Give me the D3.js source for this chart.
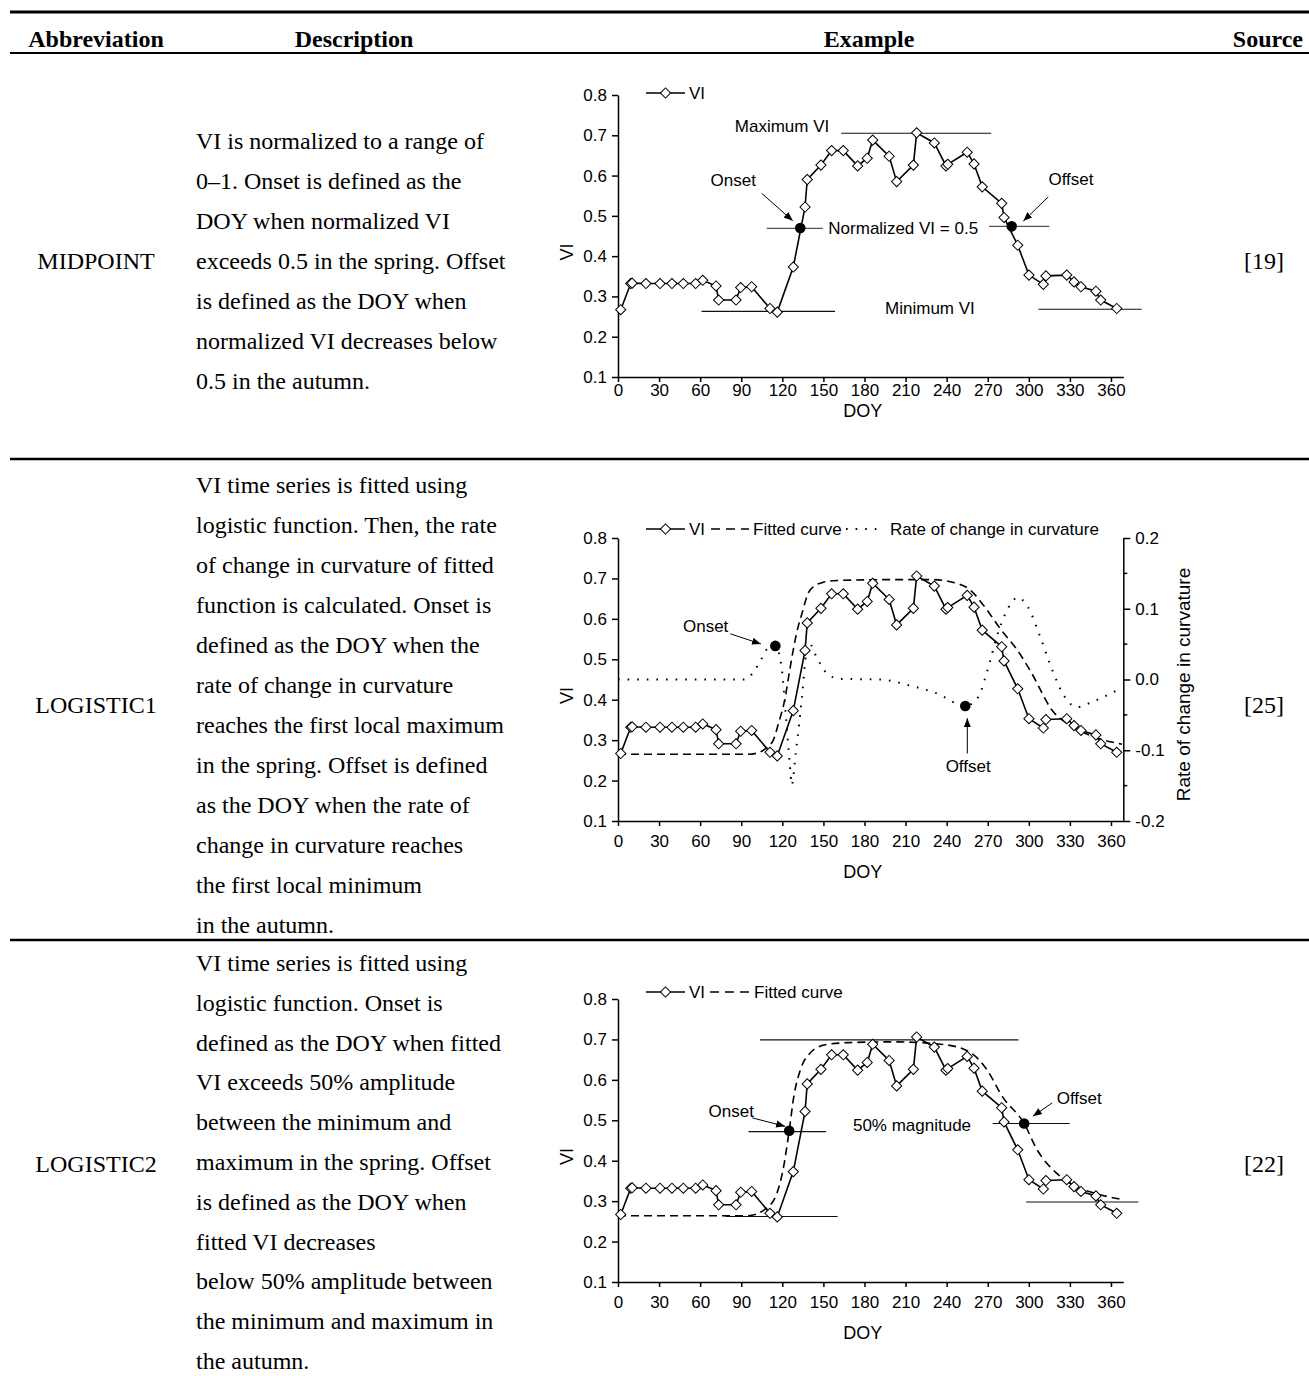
<!DOCTYPE html>
<html><head><meta charset="utf-8">
<script src="https://cdn.jsdelivr.net/npm/d3@7"></script>
<style>body{margin:0;background:#fff}svg{display:block}</style>
</head><body>
<svg id="c" width="1309" height="1376"></svg>
<script>
// ---------------- DATA ----------------
const headers = ["Abbreviation", "Description", "Example", "Source"];
const abbreviations = ["MIDPOINT", "LOGISTIC1", "LOGISTIC2"];
const sources = ["[19]", "[25]", "[22]"];
const descriptions = [
  ["VI is normalized to a range of", "0\u20131. Onset is defined as the", "DOY when normalized VI",
   "exceeds 0.5 in the spring. Offset", "is defined as the DOY when", "normalized VI decreases below",
   "0.5 in the autumn."],
  ["VI time series is fitted using", "logistic function. Then, the rate", "of change in curvature of fitted",
   "function is calculated. Onset is", "defined as the DOY when the", "rate of change in curvature",
   "reaches the first local maximum", "in the spring. Offset is defined", "as the DOY when the rate of",
   "change in curvature reaches", "the first local minimum", "in the autumn."],
  ["VI time series is fitted using", "logistic function. Onset is", "defined as the DOY when fitted",
   "VI exceeds 50% amplitude", "between the minimum and", "maximum in the spring. Offset",
   "is defined as the DOY when", "fitted VI decreases", "below 50% amplitude between",
   "the minimum and maximum in", "the autumn."]
];
const doyTicks = [0, 30, 60, 90, 120, 150, 180, 210, 240, 270, 300, 330, 360];
const viTicks = [0.1, 0.2, 0.3, 0.4, 0.5, 0.6, 0.7, 0.8];
const rateTicks = [-0.2, -0.1, 0.0, 0.1, 0.2];
const rateMinorTicks = [-0.15, -0.05, 0.05, 0.15];

// VI observations (same series in all three examples)
const viDoy = [2, 9.3, 10.3, 20.4, 30.7, 39.4, 47.7, 56.7, 61.9, 71.6, 73.5, 86.2, 89.6, 97.6, 111, 116.3,
  128, 136.6, 138.2, 148.2, 156, 164.5, 175, 182, 186, 198, 203.5, 215.7, 218.1, 231, 239.5, 240.8,
  255, 260, 266, 280.2, 281.9, 291.9, 300.1, 310.6, 312.5, 327.7, 333, 338.1, 349, 352.5, 364.2];
const viValues = [0.267, 0.332, 0.333, 0.332, 0.332, 0.332, 0.332, 0.332, 0.340, 0.326, 0.291, 0.291, 0.322, 0.324, 0.270, 0.261,
  0.373, 0.522, 0.590, 0.626, 0.662, 0.662, 0.624, 0.643, 0.688, 0.648, 0.585, 0.626, 0.706, 0.681, 0.624, 0.628,
  0.658, 0.629, 0.572, 0.531, 0.496, 0.427, 0.353, 0.330, 0.351, 0.353, 0.336, 0.324, 0.313, 0.291, 0.270];

// LOGISTIC1 fitted curve and rate of change in curvature
const fit1Doy = [0, 95, 101.5, 109, 113.4, 117.5, 121.8, 125, 128.4, 131.5, 134.4, 138.9, 143, 149.4, 160, 200, 230, 245,
  257, 267.7, 279.7, 293.2, 302, 317, 332, 346, 368];
const fit1Values = [0.265, 0.265, 0.268, 0.283, 0.30, 0.345, 0.40, 0.465, 0.531, 0.58, 0.614, 0.664, 0.68, 0.69, 0.695, 0.697, 0.697, 0.69,
  0.672, 0.63, 0.573, 0.515, 0.466, 0.374, 0.333, 0.31, 0.29];
const rateDoy = [0, 92, 98.4, 104.4, 110.4, 114.9, 119.4, 122.4, 125.4, 126.9, 129.8, 134.4, 137.4, 139.8, 144.9, 152.4,
  161.4, 191.3, 212.3, 233.2, 253.6, 263.3, 269.2, 278.2, 287.2, 291.7, 299.2, 308.2, 317.2, 326.1, 335.2, 347, 363.6];
const rateValues = [0, 0, 0.009, 0.028, 0.046, 0.0475, 0.018, -0.047, -0.118, -0.149, -0.104, -0.024, 0.037, 0.051, 0.032, 0.009,
  0.001, 0, -0.008, -0.02, -0.0375, -0.024, 0.009, 0.07, 0.108, 0.116, 0.103, 0.061, 0.013, -0.024, -0.039, -0.031, -0.016];

// LOGISTIC2 fitted curve
const fit2Doy = [0, 95, 106.5, 115, 120.5, 125, 128.4, 133.2, 140.2, 151.5, 168, 200, 238.5, 258, 269.4, 280.6, 296.6,
  305.9, 320, 334, 350.9, 366.3];
const fit2Values = [0.264, 0.264, 0.278, 0.311, 0.377, 0.474, 0.559, 0.625, 0.666, 0.687, 0.692, 0.694, 0.687, 0.666, 0.625, 0.559, 0.492,
  0.428, 0.370, 0.337, 0.317, 0.305];

// Onset / offset points [doy, value]
const midOnset = [133.1, 0.470], midOffset = [287.5, 0.474];
const log1Onset = [114.9, 0.0475], log1Offset = [253.6, -0.0375];
const log2Onset = [125, 0.474], log2Offset = [296.6, 0.492];

// ---------------- DRAW ----------------
const svg = d3.select("#c");
const serif = "'Liberation Serif', 'Times New Roman', serif";
const sans = "'Liberation Sans', Arial, sans-serif";
const TXT = "24px", CH = "17px";

// table rules
[[12, 3], [53, 2], [459, 2.5], [940, 2.5]].forEach(([y, w]) => {
  svg.append("line").attr("x1", 10).attr("x2", 1309).attr("y1", y).attr("y2", y)
    .attr("stroke", "#000").attr("stroke-width", w);
});
// header
const headerPos = [[96, "middle"], [354, "middle"], [869, "middle"], [1303, "end"]];
headers.forEach((h, i) => {
  svg.append("text").attr("x", headerPos[i][0]).attr("y", 38.5).attr("text-anchor", headerPos[i][1])
    .attr("dominant-baseline", "central")
    .style("font-family", serif).style("font-weight", "bold").style("font-size", TXT).text(h);
});
const rowMid = [261, 705, 1164];
const descTop = [141, 485, 963];
const descStep = [40, 40, 39.8];
abbreviations.forEach((a, i) => {
  svg.append("text").attr("x", 96).attr("y", rowMid[i]).attr("text-anchor", "middle").attr("dominant-baseline", "central")
    .style("font-family", serif).style("font-size", TXT).text(a);
  svg.append("text").attr("x", 1264).attr("y", rowMid[i]).attr("text-anchor", "middle").attr("dominant-baseline", "central")
    .style("font-family", serif).style("font-size", TXT).text(sources[i]);
  descriptions[i].forEach((line, j) => {
    svg.append("text").attr("x", 196).attr("y", descTop[i] + descStep[i] * j).attr("dominant-baseline", "central")
      .style("font-family", serif).style("font-size", TXT).text(line);
  });
});

// arrow marker
svg.append("defs").append("marker").attr("id", "arr").attr("viewBox", "0 0 10 10")
  .attr("refX", 10).attr("refY", 5).attr("markerWidth", 9).attr("markerHeight", 9)
  .attr("markerUnits", "userSpaceOnUse").attr("orient", "auto")
  .append("path").attr("d", "M0,1 L10,5 L0,9 Z").attr("fill", "#000");

const X0 = 618, X1 = 1123.3;
const viData = viDoy.map((d, i) => ({doy: d, v: viValues[i]}));
const diamond = d3.symbol(d3.symbolSquare, 52);

function makeChart(top, bottom, labelGap, titleGap) {
  const g = svg.append("g");
  const x = d3.scaleLinear().domain([0, 369]).range([X0, X1]);
  const y = d3.scaleLinear().domain([0.1, 0.8]).range([bottom, top]);
  const ax = g.append("g").attr("transform", `translate(0,${bottom})`)
    .call(d3.axisBottom(x).tickValues(doyTicks).tickSize(5).tickSizeOuter(0).tickPadding(labelGap));
  const ay = g.append("g").attr("transform", `translate(${X0},0)`)
    .call(d3.axisLeft(y).tickValues(viTicks).tickSize(6).tickSizeOuter(0).tickPadding(5).tickFormat(d3.format(".1f")));
  [ax, ay].forEach(a => {
    a.selectAll("path,line").attr("stroke", "#000").attr("stroke-width", 1.5);
    a.selectAll("text").style("font-family", sans).style("font-size", CH).attr("fill", "#000");
  });
  g.append("text").attr("x", (X0 + X1) / 2 - 8).attr("y", bottom + titleGap).attr("text-anchor", "middle")
    .attr("dominant-baseline", "central").style("font-family", sans).style("font-size", "18px").text("DOY");
  g.append("text").attr("transform", `translate(567,${(top + bottom) / 2 + 16}) rotate(-90)`).attr("text-anchor", "middle")
    .attr("dominant-baseline", "central").style("font-family", sans).style("font-size", "18px").text("VI");
  return {g, x, y};
}
function hline(c, d0, d1, v, color) {
  c.g.append("line").attr("x1", c.x(d0)).attr("x2", c.x(d1)).attr("y1", c.y(v)).attr("y2", c.y(v))
    .attr("stroke", color || "#111").attr("stroke-width", 1.1);
}
function label(c, d, v, t, anchor) {
  c.g.append("text").attr("x", c.x(d)).attr("y", c.y(v)).attr("text-anchor", anchor || "middle")
    .attr("dominant-baseline", "central").style("font-family", sans).style("font-size", CH).text(t);
}
function arrow(c, d0, v0, d1, v1) {
  c.g.append("line").attr("x1", c.x(d0)).attr("y1", c.y(v0)).attr("x2", c.x(d1)).attr("y2", c.y(v1))
    .attr("stroke", "#000").attr("stroke-width", 1).attr("marker-end", "url(#arr)");
}
function dot(c, yScale, p) {
  c.g.append("circle").attr("cx", c.x(p[0])).attr("cy", yScale(p[1])).attr("r", 5.3).attr("fill", "#000");
}
function viSeries(c) {
  c.g.append("path").datum(viData).attr("fill", "none").attr("stroke", "#000").attr("stroke-width", 1.6)
    .attr("d", d3.line().x(d => c.x(d.doy)).y(d => c.y(d.v)));
}
function viMarkers(c) {
  c.g.selectAll(".dm").data(viData).join("path").attr("d", diamond)
    .attr("transform", d => `translate(${c.x(d.doy)},${c.y(d.v)}) rotate(45)`)
    .attr("fill", "#fff").attr("stroke", "#000").attr("stroke-width", 1);
}
function legendVI(c, ly) {
  c.g.append("line").attr("x1", 646).attr("x2", 685).attr("y1", ly).attr("y2", ly).attr("stroke", "#000").attr("stroke-width", 1.6);
  c.g.append("path").attr("d", diamond).attr("transform", `translate(665.5,${ly}) rotate(45)`)
    .attr("fill", "#fff").attr("stroke", "#000");
  c.g.append("text").attr("x", 689).attr("y", ly).attr("dominant-baseline", "central")
    .style("font-family", sans).style("font-size", CH).text("VI");
}
function legendLine(c, ly, xa, xb, dash, w, text, tx) {
  c.g.append("line").attr("x1", xa).attr("x2", xb).attr("y1", ly).attr("y2", ly).attr("stroke", "#000")
    .attr("stroke-width", w).attr("stroke-dasharray", dash);
  c.g.append("text").attr("x", tx).attr("y", ly).attr("dominant-baseline", "central")
    .style("font-family", sans).style("font-size", CH).text(text);
}

// ---- Chart 1: MIDPOINT ----
{
  const c = makeChart(95, 377, 2, 34);
  hline(c, 163, 272.5, 0.705);
  hline(c, 61, 158.5, 0.263);
  hline(c, 307, 382.4, 0.268);
  hline(c, 108.6, 149.5, 0.469, "#555");
  hline(c, 271, 315, 0.474, "#555");
  viSeries(c);
  viMarkers(c);
  dot(c, c.y, midOnset); dot(c, c.y, midOffset);
  label(c, 119.8, 0.721, "Maximum VI");
  label(c, 84.2, 0.589, "Onset");
  label(c, 330.8, 0.590, "Offset");
  label(c, 153.6, 0.469, "Normalized VI = 0.5", "start");
  label(c, 227.8, 0.270, "Minimum VI");
  arrow(c, 104.9, 0.556, 127.6, 0.488);
  arrow(c, 314.2, 0.547, 296, 0.487);
  legendVI(c, 93);
}
// ---- Chart 2: LOGISTIC1 ----
{
  const c = makeChart(538, 821, 9, 51);
  const yr = d3.scaleLinear().domain([-0.2, 0.2]).range([821, 538]);
  const ar = c.g.append("g").attr("transform", `translate(${X1},0)`)
    .call(d3.axisRight(yr).tickValues(rateTicks).tickSize(7).tickSizeOuter(0).tickPadding(5)
      .tickFormat(d => d3.format(".1f")(d).replace("\u2212", "-")));
  ar.selectAll("path,line").attr("stroke", "#000").attr("stroke-width", 1.5);
  ar.selectAll("text").style("font-family", sans).style("font-size", CH);
  c.g.selectAll(".minor").data(rateMinorTicks).join("line").attr("x1", X1).attr("x2", X1 + 4)
    .attr("y1", d => yr(d)).attr("y2", d => yr(d)).attr("stroke", "#000").attr("stroke-width", 1.5);
  c.g.append("text").attr("transform", `translate(1183,${(538 + 821) / 2 + 5}) rotate(-90)`).attr("text-anchor", "middle")
    .attr("dominant-baseline", "central").style("font-family", sans).style("font-size", "19px").text("Rate of change in curvature");
  const fit = fit1Doy.map((d, i) => ({doy: d, v: fit1Values[i]}));
  const rate = rateDoy.map((d, i) => ({doy: d, v: rateValues[i]}));
  c.g.append("path").datum(rate).attr("fill", "none").attr("stroke", "#000").attr("stroke-width", 2)
    .attr("stroke-dasharray", "1.6,8").attr("d", d3.line().curve(d3.curveMonotoneX).x(d => c.x(d.doy)).y(d => yr(d.v)));
  viSeries(c);
  c.g.append("path").datum(fit).attr("fill", "none").attr("stroke", "#000").attr("stroke-width", 1.6)
    .attr("stroke-dasharray", "8,5").attr("d", d3.line().curve(d3.curveMonotoneX).x(d => c.x(d.doy)).y(d => c.y(d.v)));
  viMarkers(c);
  dot(c, yr, log1Onset); dot(c, yr, log1Offset);
  label(c, 64, 0.581, "Onset");
  arrow(c, 82, 0.563, 104.4, 0.538);
  label(c, 255.7, 0.236, "Offset");
  arrow(c, 255.1, 0.267, 255.1, 0.354);
  legendVI(c, 529);
  legendLine(c, 529, 711, 749, "9,6", 1.6, "Fitted curve", 753);
  legendLine(c, 529, 846, 884, "1.6,8", 2, "Rate of change in curvature", 890);
}
// ---- Chart 3: LOGISTIC2 ----
{
  const c = makeChart(999, 1282, 9, 51);
  hline(c, 103.7, 292.4, 0.699);
  hline(c, 78.4, 160.4, 0.262);
  hline(c, 298, 380, 0.298);
  hline(c, 95.3, 152, 0.472);
  hline(c, 273.6, 329.8, 0.492);
  const fit = fit2Doy.map((d, i) => ({doy: d, v: fit2Values[i]}));
  viSeries(c);
  c.g.append("path").datum(fit).attr("fill", "none").attr("stroke", "#000").attr("stroke-width", 1.6)
    .attr("stroke-dasharray", "8,5").attr("d", d3.line().curve(d3.curveMonotoneX).x(d => c.x(d.doy)).y(d => c.y(d.v)));
  viMarkers(c);
  dot(c, c.y, log2Onset); dot(c, c.y, log2Offset);
  label(c, 82.7, 0.522, "Onset");
  label(c, 336.8, 0.555, "Offset");
  label(c, 214.7, 0.487, "50% magnitude");
  arrow(c, 98.1, 0.506, 122, 0.485);
  arrow(c, 317.1, 0.543, 303, 0.51);
  legendVI(c, 992);
  legendLine(c, 992, 710, 750, "9,6", 1.6, "Fitted curve", 754);
}
</script>
</body></html>
